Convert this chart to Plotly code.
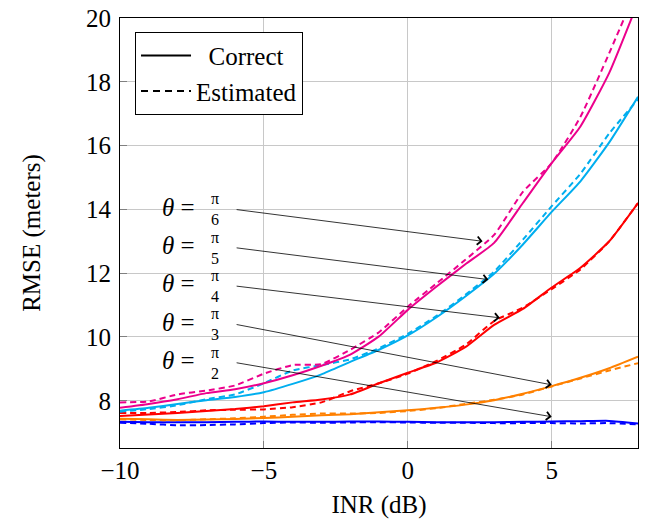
import plotly.graph_objects as go

# INR sweep (dB)
inr_db = list(range(-10, 9))

# RMSE (meters) for each look angle, correct vs estimated steering
pi6_correct = [7.78, 7.9, 8.05, 8.24, 8.36, 8.55, 8.8, 9.1, 9.45, 10.02, 10.85, 11.58, 12.28, 12.95, 14.2, 15.45, 16.6, 18.28, 20.5]
pi6_estimated = [7.95, 7.98, 8.2, 8.32, 8.48, 8.85, 9.12, 9.15, 9.6, 10.15, 10.95, 11.68, 12.42, 13.2, 14.55, 15.45, 16.9, 18.9, 21.0]
pi5_correct = [7.69, 7.78, 7.9, 8.02, 8.12, 8.27, 8.53, 8.83, 9.22, 9.6, 10.05, 10.62, 11.27, 11.98, 12.9, 13.92, 14.88, 16.1, 17.53]
pi5_estimated = [7.66, 7.74, 7.86, 8.05, 8.2, 8.55, 8.95, 9.12, 9.3, 9.65, 10.1, 10.66, 11.32, 12.05, 13.05, 14.1, 15.12, 16.38, 17.45]
pi4_correct = [7.52, 7.57, 7.62, 7.68, 7.74, 7.83, 7.95, 8.04, 8.2, 8.55, 8.88, 9.2, 9.68, 10.38, 10.88, 11.55, 12.17, 13.0, 14.2]
pi4_estimated = [7.62, 7.62, 7.65, 7.7, 7.72, 7.73, 7.8, 7.95, 8.3, 8.55, 8.85, 9.25, 9.75, 10.5, 10.92, 11.5, 12.12, 13.0, 14.2]
pi3_correct = [7.44, 7.42, 7.4, 7.41, 7.43, 7.46, 7.5, 7.55, 7.58, 7.64, 7.7, 7.78, 7.88, 8.02, 8.22, 8.46, 8.72, 9.02, 9.38]
pi3_estimated = [7.42, 7.4, 7.39, 7.42, 7.45, 7.5, 7.56, 7.6, 7.6, 7.62, 7.68, 7.77, 7.9, 8.03, 8.2, 8.45, 8.7, 8.95, 9.18]
pi2_correct = [7.34, 7.33, 7.33, 7.33, 7.34, 7.35, 7.34, 7.34, 7.35, 7.35, 7.34, 7.33, 7.33, 7.33, 7.34, 7.35, 7.36, 7.37, 7.29]
pi2_estimated = [7.31, 7.28, 7.23, 7.24, 7.26, 7.3, 7.32, 7.31, 7.32, 7.33, 7.32, 7.31, 7.31, 7.3, 7.3, 7.3, 7.29, 7.3, 7.26]

# Look-angle labels: denominator of pi, label anchor (x, y), arrow head (x, y)
angle_denoms = ["6", "5", "4", "3", "2"]
label_x = -6.0
label_y = [14.0, 12.8, 11.6, 10.4, 9.2]
head_x = [2.6, 2.8, 3.2, 5.0, 5.0]
head_y = [13.0, 11.8, 10.6, 8.5, 7.5]

x_ticks = [-10, -5, 0, 5]
y_ticks = [8, 10, 12, 14, 16, 18, 20]

series = [
    (pi2_correct, pi2_estimated, "#0000FF"),
    (pi3_correct, pi3_estimated, "#FF8000"),
    (pi4_correct, pi4_estimated, "#FF0000"),
    (pi5_correct, pi5_estimated, "#00AEEF"),
    (pi6_correct, pi6_estimated, "#EC008C"),
]

FONT = "Liberation Serif"
NBSP = "\u00a0"
fig = go.Figure()

for correct, estimated, color in series:
    fig.add_trace(go.Scatter(x=inr_db, y=correct, mode="lines", showlegend=False,
                             line=dict(color=color, width=2, shape="spline", smoothing=0.5)))
    fig.add_trace(go.Scatter(x=inr_db, y=estimated, mode="lines", showlegend=False,
                             line=dict(color=color, width=2, dash="6px,4px", shape="spline", smoothing=0.5)))

# legend entries (labels centred in the legend column)
fig.add_trace(go.Scatter(x=[None], y=[None], mode="lines", name=NBSP * 2 + "Correct",
                         line=dict(color="black", width=2)))
fig.add_trace(go.Scatter(x=[None], y=[None], mode="lines", name="Estimated",
                         line=dict(color="black", width=2, dash="7px,5px")))

annotations = []
for d, ly, hx, hy in zip(angle_denoms, label_y, head_x, head_y):
    annotations.append(dict(x=hx, y=hy, ax=label_x, ay=ly, axref="x", ayref="y",
                            xref="x", yref="y", text="", showarrow=True,
                            arrowhead=4, arrowsize=2, arrowwidth=0.8, arrowcolor="black"))
    annotations.append(dict(x=-7.32, y=ly, xref="x", yref="y", text="<i>θ</i> =",
                            showarrow=False, xanchor="right", yanchor="middle", yshift=2,
                            font=dict(family=FONT, size=25, color="black")))
    annotations.append(dict(x=-6.70, y=ly, xref="x", yref="y", text="π<br>" + d,
                            showarrow=False, xanchor="center", yanchor="middle", yshift=0,
                            font=dict(family=FONT, size=16, color="black")))

axis_common = dict(showgrid=True, gridcolor="#c8c8c8", gridwidth=1, zeroline=False,
                   showline=True, linecolor="black", linewidth=1, mirror=True,
                   ticks="inside", ticklen=7, tickcolor="#808080",
                   tickfont=dict(family=FONT, size=25, color="black"))

fig.update_xaxes(range=[-10, 8], tickvals=x_ticks, ticktext=[("−" + str(-v)) if v < 0 else str(v) for v in x_ticks],
                 title=dict(text="INR (dB)", font=dict(family=FONT, size=25, color="black"), standoff=12),
                 ticklabelstandoff=0, **axis_common)
fig.update_yaxes(range=[6.52, 20], tickvals=y_ticks,
                 title=dict(text="RMSE (meters)", font=dict(family=FONT, size=25, color="black"), standoff=38),
                 ticklabelstandoff=3, **axis_common)

fig.update_layout(
    width=653, height=522,
    margin=dict(l=120, r=15, t=18, b=74, autoexpand=False),
    paper_bgcolor="white", plot_bgcolor="white",
    font=dict(family=FONT, size=25, color="black"),
    legend=dict(x=0.029, y=0.968, xanchor="left", yanchor="top",
                bgcolor="white", bordercolor="black", borderwidth=1,
                font=dict(family=FONT, size=25, color="black"),
                tracegroupgap=0, itemwidth=50),
    annotations=annotations,
)

fig.write_html("out.html")
